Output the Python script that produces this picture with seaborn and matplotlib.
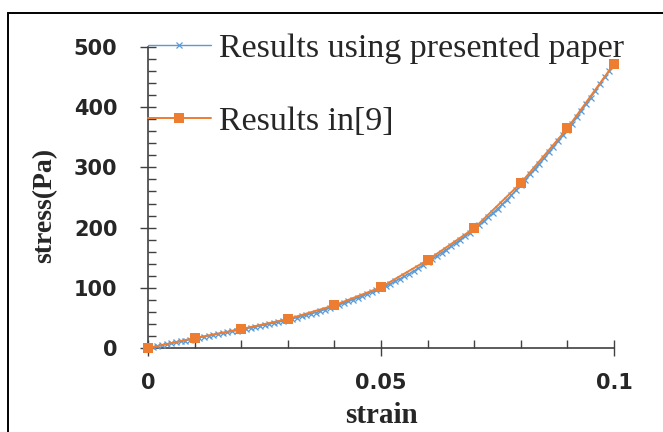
import numpy as np
import pandas as pd
import matplotlib
matplotlib.use("Agg")
import matplotlib.pyplot as plt
import seaborn as sns
from matplotlib.ticker import MultipleLocator
from matplotlib.patches import Rectangle

# ---- data ----
strain_fine = [round(i * 0.001, 3) for i in range(101)]
stress_presented = [
    0, 1.5, 3.0, 4.5, 6.1, 7.7, 9.2, 10.8, 12.3, 13.9, 15.5,
    17.0, 18.5, 20.0, 21.5, 23.0, 24.5, 26.0, 27.5, 29.0, 30.5,
    32.0, 33.5, 35.0, 36.6, 38.2, 39.8, 41.4, 43.0, 44.7, 46.5,
    48.4, 50.4, 52.4, 54.5, 56.7, 58.9, 61.3, 63.8, 66.3, 69.0,
    71.7, 74.5, 77.3, 80.2, 83.2, 86.3, 89.4, 92.6, 95.8, 99.0,
    102.8, 106.7, 110.7, 114.8, 119.0, 123.3, 127.8, 132.6, 137.7, 143.0,
    148.0, 153.1, 158.3, 163.6, 169.0, 174.5, 180.1, 185.7, 191.3, 197.0,
    203.7, 210.5, 217.4, 224.4, 231.5, 238.8, 246.3, 254.0, 262.5, 271.0,
    279.7, 288.5, 297.4, 306.4, 315.5, 324.8, 334.2, 343.6, 353.0, 362.5,
    372.8, 383.3, 394.0, 404.9, 416.0, 427.3, 438.8, 450.0, 460.5, 470.5,
]
strain_ref = [0, 0.01, 0.02, 0.03, 0.04, 0.05, 0.06, 0.07, 0.08, 0.09, 0.1]
stress_ref = [0, 16.5, 31.5, 48, 71, 101, 146, 199, 274, 365, 472]

label_a = "Results using presented paper"
label_b = "Results in[9]"
x_ticks = [0, 0.05, 0.1]
x_ticklabels = ["0", "0.05", "0.1"]
y_ticks = [0, 100, 200, 300, 400, 500]

df_a = pd.DataFrame({"strain": strain_fine, "stress": stress_presented})
df_b = pd.DataFrame({"strain": strain_ref, "stress": stress_ref})

sns.set_style("white")
plt.rcParams["font.family"] = ["DejaVu Sans"]

W, H = 663, 432
fig = plt.figure(figsize=(W / 100, H / 100), dpi=100)
ax = fig.add_axes([148 / W, 1 - 348 / H, (614 - 148) / W, (348 - 47) / H])

blue = "#5B9BD5"
orange = "#ED7D31"

sns.lineplot(data=df_a, x="strain", y="stress", ax=ax, color=blue, lw=1.0,
             marker="x", markersize=4, markeredgewidth=0.9, markeredgecolor=blue,
             label=label_a, clip_on=False, zorder=3)
sns.lineplot(data=df_b, x="strain", y="stress", ax=ax, color=orange, lw=1.4,
             marker="s", markersize=6.5, markeredgewidth=0, markerfacecolor=orange,
             label=label_b, clip_on=False, zorder=4)

ax.set_xlim(0, 0.1)
ax.set_ylim(0, 500)
ax.set_xticks(x_ticks)
ax.set_xticklabels(x_ticklabels)
ax.set_yticks(y_ticks)
ax.xaxis.set_minor_locator(MultipleLocator(0.01))
ax.yaxis.set_minor_locator(MultipleLocator(20))

for s in ["top", "right"]:
    ax.spines[s].set_visible(False)
for s in ["left", "bottom"]:
    ax.spines[s].set_color("#404040")
    ax.spines[s].set_linewidth(1.2)

ax.tick_params(axis="both", which="both", bottom=True, left=True, top=False, right=False)
ax.tick_params(axis="both", which="major", direction="inout", length=12, width=1.0,
               color="#404040", labelsize=15)
ax.tick_params(axis="x", which="major", pad=12)
ax.tick_params(axis="y", which="major", pad=16)
ax.tick_params(axis="both", which="minor", direction="in", length=6, width=1.0,
               color="#404040")
for lab in ax.get_xticklabels() + ax.get_yticklabels():
    lab.set_fontweight("bold")

ax.set_xlabel("strain", family="Liberation Serif", fontweight="bold", fontsize=21)
ax.set_ylabel("stress(Pa)", family="Liberation Serif", fontweight="bold", fontsize=20)
ax.xaxis.set_label_coords(0.5, -0.178)
ax.yaxis.set_label_coords(-0.195, 0.475)

leg = ax.legend(loc="upper left", bbox_to_anchor=(148 / W, 1 - 33 / H),
                bbox_transform=fig.transFigure, frameon=False,
                prop={"family": "Liberation Serif", "size": 24.5},
                handlelength=1.85, handletextpad=0.25, labelspacing=1.25,
                borderpad=0, borderaxespad=0)

fig.patches.append(Rectangle((8 / W, -0.05), 1.2, 1 - 13 / H + 0.05,
                             transform=fig.transFigure, fill=False,
                             edgecolor="black", lw=1.4))

fig.savefig("out.png", dpi=100)
